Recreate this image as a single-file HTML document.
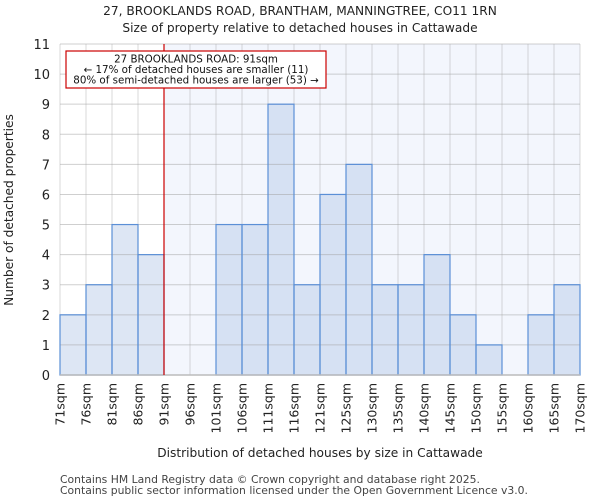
<!DOCTYPE html>
<html><head><meta charset="utf-8"><style>body{margin:0;background:#fff}svg{display:block;font-family:"DejaVu Sans","Liberation Sans",sans-serif}</style></head>
<body>
<svg id="chart" width="600" height="500" viewBox="0 0 600 500">
<text x="300" y="15" text-anchor="middle" font-size="12.2" fill="#222">27, BROOKLANDS ROAD, BRANTHAM, MANNINGTREE, CO11 1RN</text>
<text x="300" y="32" text-anchor="middle" font-size="12.2" fill="#222">Size of property relative to detached houses in Cattawade</text>
<rect x="60" y="44" width="520" height="331" fill="#fff"/>
<g id="g"></g>
<text x="320" y="457" text-anchor="middle" font-size="12.2" fill="#222">Distribution of detached houses by size in Cattawade</text>
<text transform="translate(13,210) rotate(-90)" text-anchor="middle" font-size="12.2" fill="#222">Number of detached properties</text>
<text x="60" y="483" font-size="10.8" fill="#444">Contains HM Land Registry data © Crown copyright and database right 2025.</text>
<text x="60" y="494" font-size="10.8" fill="#444">Contains public sector information licensed under the Open Government Licence v3.0.</text>
</svg>
<script>
const categories=["71sqm","76sqm","81sqm","86sqm","91sqm","96sqm","101sqm","106sqm","111sqm","116sqm","121sqm","125sqm","130sqm","135sqm","140sqm","145sqm","150sqm","155sqm","160sqm","165sqm","170sqm"];
const counts=[2,3,5,4,0,0,5,5,9,3,6,7,3,3,4,2,1,0,2,3];
const yTicks=[0,1,2,3,4,5,6,7,8,9,10,11];
const markerBin=4;
const annotation=["27 BROOKLANDS ROAD: 91sqm","← 17% of detached houses are smaller (11)","80% of semi-detached houses are larger (53) →"];
const X0=60,X1=580,Y0=375,Y1=44,YMAX=11;
const bw=(X1-X0)/counts.length;
const xs=i=>X0+i*bw;
const ys=v=>Y0-(v/YMAX)*(Y0-Y1);
const g=document.getElementById('g');
const NS="http://www.w3.org/2000/svg";
function mk(t,a){const e=document.createElementNS(NS,t);for(const k in a)e.setAttribute(k,a[k]);g.appendChild(e);return e;}
const sh=mk('rect',{x:xs(markerBin),y:Y1,width:X1-xs(markerBin),height:Y0-Y1,fill:'#f3f6fd'});


counts.forEach((c,i)=>{const r=mk('rect',{x:xs(i),y:ys(c),width:bw,height:Y0-ys(c),fill:i<markerBin?'#dde6f4':'#d6e1f3'});

});
yTicks.forEach(v=>{const l=mk('line',{x1:X0,x2:X1,y1:ys(v),y2:ys(v),stroke:'rgba(160,160,160,0.5)','stroke-width':1});


const t=mk('text',{x:X0-10,y:ys(v)+5,'text-anchor':'end','font-size':13,fill:'#222'});t.textContent=v;

});
categories.forEach((c,i)=>{const x=xs(i);const l=mk('line',{x1:x,x2:x,y1:Y1,y2:Y0,stroke:'rgba(160,160,160,0.4)','stroke-width':1});


const t=mk('text',{transform:`translate(${x+4.5},${Y0+8}) rotate(-90)`,'text-anchor':'end','font-size':12.5,fill:'#222'});t.textContent=c;

});
counts.forEach((c,i)=>{if(c<=0)return;const r=mk('rect',{x:xs(i),y:ys(c),width:bw,height:Y0-ys(c),fill:'none',stroke:'#5b8fd6','stroke-width':1.2});

});
const ax=mk('line',{x1:X0,x2:X1,y1:Y0,y2:Y0,stroke:'#bbb','stroke-width':1.5});


const ml=mk('line',{x1:xs(markerBin),x2:xs(markerBin),y1:Y1,y2:Y0,stroke:'#c00','stroke-width':1.2});


const bx=mk('rect',{x:66,y:51,width:260,height:37,fill:'#fff',stroke:'#c00','stroke-width':1.2});


annotation.forEach((s,i)=>{const t=mk('text',{x:196,y:62.5+i*10.5,'text-anchor':'middle','font-size':10.3,fill:'#111'});t.textContent=s;

});
</script>
</body></html>
